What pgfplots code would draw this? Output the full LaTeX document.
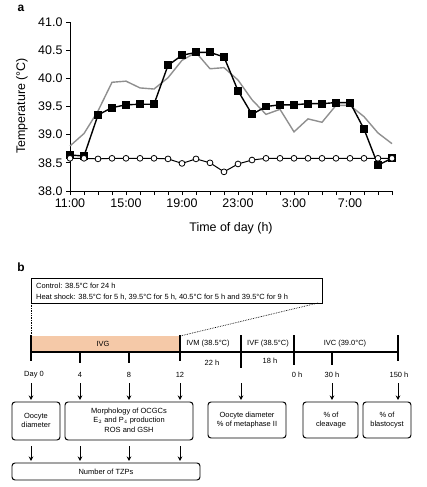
\documentclass[border=0pt]{standalone}
\usepackage{pgfplots}
\pgfplotsset{compat=1.18}
\usepackage{fontspec}
\setmainfont{Liberation Sans}
\usetikzlibrary{arrows.meta}
\definecolor{peach}{HTML}{F5C9A8}
\definecolor{grayline}{HTML}{8F8F8F}

\begin{document}
\begin{tikzpicture}
\path[use as bounding box] (0,0) rectangle (427bp,-487bp);
\node[font=\fontsize{12}{14}\selectfont\bfseries] at (21bp,-8bp) {a};
\begin{axis}[
  at={(70bp,-191bp)}, anchor=south west,
  scale only axis, width=322bp, height=169bp,
  xmin=0, xmax=23, ymin=38, ymax=41,
  clip=false,
  axis lines*=left,
  axis line style={black, line width=0.7pt},
  tick style={black, line width=0.7pt},
  tick align=outside,
  major tick length=4bp,
  ytick={38,38.5,39,39.5,40,40.5,41},
  xtick={0,...,23},
  xticklabels={11:00,,,,15:00,,,,19:00,,,,23:00,,,,3:00,,,,7:00,,,},
  yticklabel style={/pgf/number format/.cd, fixed, fixed zerofill, precision=1},
  /pgf/number format/assume math mode=true,
  tick label style={font=\fontsize{12.5}{14}\selectfont},
]
\addplot[grayline, line width=1.4pt] coordinates {
(0,38.80) (1,39.02) (2,39.42) (3,39.93) (4,39.95) (5,39.83) (6,39.81) (7,40.01)
(8,40.32) (9,40.46) (10,40.17) (11,40.19) (12,39.97) (13,39.62) (14,39.36) (15,39.45)
(16,39.05) (17,39.28) (18,39.22) (19,39.52) (20,39.52) (21,39.32) (22,39.03) (23,38.84)};
\addplot[black, line width=1.4pt, mark=square*, mark size=3.3bp] coordinates {
(0,38.64) (1,38.62) (2,39.35) (3,39.48) (4,39.53) (5,39.54) (6,39.54) (7,40.23)
(8,40.41) (9,40.46) (10,40.46) (11,40.38) (12,39.78) (13,39.36) (14,39.50) (15,39.53)
(16,39.53) (17,39.55) (18,39.55) (19,39.57) (20,39.57) (21,39.10) (22,38.46) (23,38.58)};
\addplot[black, line width=1pt, mark=*, mark options={fill=white, line width=0.8pt}, mark size=2.9bp] coordinates {
(0,38.58) (1,38.58) (2,38.57) (3,38.58) (4,38.58) (5,38.58) (6,38.58) (7,38.57)
(8,38.49) (9,38.57) (10,38.50) (11,38.34) (12,38.48) (13,38.55) (14,38.58) (15,38.58)
(16,38.58) (17,38.58) (18,38.58) (19,38.58) (20,38.58) (21,38.58) (22,38.58) (23,38.58)};
\end{axis}
\node[rotate=90, font=\fontsize{12.5}{14}\selectfont] at (22bp,-106bp) {Temperature (°C)};
\node[font=\fontsize{12.5}{14}\selectfont] at (231bp,-228bp) {Time of day (h)};

\begin{scope}[x=1bp, y=-1bp, font=\fontsize{7.5}{9}\selectfont]
\node[font=\fontsize{12}{14}\selectfont\bfseries] at (21,267) {b};
\draw[line width=0.9pt] (31,278) rectangle (322,303);
\node[anchor=base west, inner sep=0] at (36,288.7) {Control: 38.5°C for 24 h};
\node[anchor=base west, inner sep=0] at (36,299.4) {Heat shock: 38.5°C for 5 h, 39.5°C for 5 h, 40.5°C for 5 h and 39.5°C for 9 h};
\draw[densely dotted, line width=0.7pt] (31,303) -- (31,336);
\draw[densely dotted, line width=0.7pt] (318,303) -- (180,336);
\fill[peach] (31,336) rectangle (180,352);
\draw[line width=1.1pt] (31,352) -- (398,352);
\draw[line width=1.1pt] (31,335) -- (31,361) (180,335) -- (180,361) (398,335) -- (398,361)
  (241,335) -- (241,368) (294,335) -- (294,365)
  (80,352) -- (80,363) (129,352) -- (129,363) (332,352) -- (332,365);
\node at (103,344) {IVG};
\node at (208,344) {IVM (38.5°C)};
\node at (268,344) {IVF (38.5°C)};
\node at (345,344) {IVC (39.0°C)};
\node at (212,363) {22 h};
\node at (270,361) {18 h};
\foreach \xx/\tt in {34/Day 0, 80/4, 129/8, 180/12, 297/0 h, 332/30 h, 399/150 h}
  \node at (\xx,375) {\tt};
\foreach \xx in {31,80,129,180,241,332,398}
  \draw[line width=1pt, -{Stealth[length=4.5bp,width=4.5bp]}] (\xx,383) -- (\xx,400);
\foreach \xx in {31,80,129,180}
  \draw[line width=1pt, -{Stealth[length=4.5bp,width=4.5bp]}] (\xx,446) -- (\xx,461);
\begin{scope}[rounded corners=3bp, line width=1pt]
\draw (12,402) rectangle (60,440);
\draw (65,402) rectangle (193,440);
\draw (208,402) rectangle (286,438);
\draw (303,402) rectangle (358,438);
\draw (363,402) rectangle (411,438);
\draw (12,463) rectangle (200,480);
\end{scope}
\node[align=center] at (36,420.5) {Oocyte\\diameter};
\node[align=center, font=\fontsize{7.5}{9.6}\selectfont] at (129,420) {Morphology of OCGCs\\E$_2$ and P$_4$ production\\ROS and GSH};
\node[align=center] at (247,420) {Oocyte diameter\\\% of metaphase II};
\node[align=center] at (331,420) {\% of\\cleavage};
\node[align=center] at (387,420) {\% of\\blastocyst};
\node at (106,471.5) {Number of TZPs};
\end{scope}
\end{tikzpicture}
\end{document}
